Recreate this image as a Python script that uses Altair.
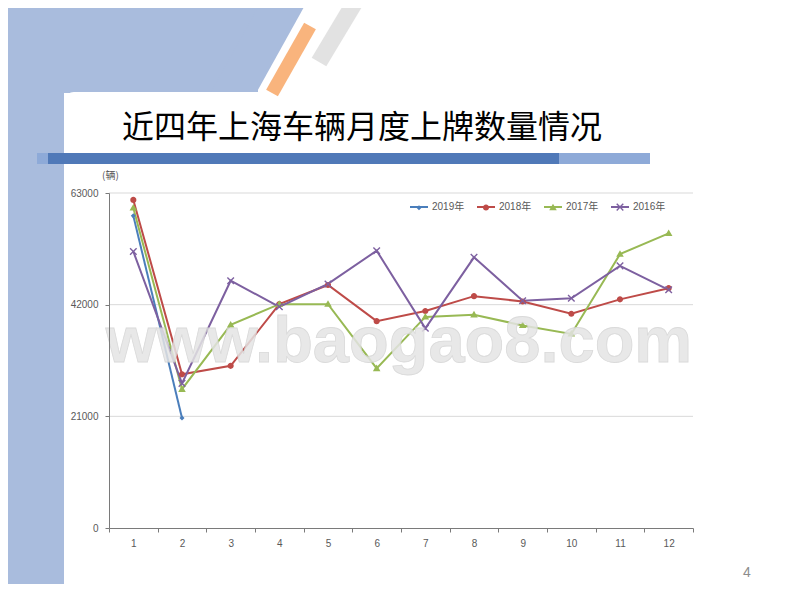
import altair as alt
import pandas as pd

# ---------------- data ----------------
months = list(range(1, 13))
series_names = ["2019年", "2018年", "2017年", "2016年"]
v2019 = [58700, 20700]
v2018 = [61700, 28900, 30500, 42100, 45700, 38900, 40800, 43600, 42600, 40300, 43000, 45100]
v2017 = [60200, 26100, 38200, 42100, 42100, 30000, 39700, 40100, 38100, 36500, 51500, 55400]
v2016 = [52000, 27200, 46500, 41600, 45900, 52150, 37550, 50900, 42750, 43200, 49300, 44800]
y_ticks = [0, 21000, 42000, 63000]
title_text = "近四年上海车辆月度上牌数量情况"
unit_text = "(辆)"
watermark = "www.baogao8.com"
page_no = "4"

# ---------------- styles ----------------
colors = ["#4a7ebb", "#be4b48", "#98b954", "#7d60a0"]
# each marker path carries a zero-area horizontal segment (-1..1) so that its
# bounds match the line symbol of the other legend
EXTENT = "M-1,0L1,0"
shapes = [
    EXTENT + "M0,-0.28L0.28,0L0,0.28L-0.28,0Z",
    EXTENT + "M-0.34,0A0.34,0.34,0,1,0,0.34,0A0.34,0.34,0,1,0,-0.34,0Z",
    EXTENT + "M0,-0.44L0.42,0.3L-0.42,0.3Z",
    EXTENT + "M-0.42,-0.31L-0.31,-0.42L0,-0.11L0.31,-0.42L0.42,-0.31L0.11,0L0.42,0.31L0.31,0.42L0,0.11L-0.31,0.42L-0.42,0.31L-0.11,0Z",
]
FONT = "Liberation Sans, Noto Sans CJK SC"
CJK = "Noto Sans CJK SC"
LABEL_COLOR = "#595959"
AXIS_COLOR = "#7a7a7a"

rows = []
for name, vals in zip(series_names, [v2019, v2018, v2017, v2016]):
    for m, v in zip(months, vals):
        rows.append({"month": m, "value": v, "year": name, "yr": name})
df = pd.DataFrame(rows)
grid_df = pd.DataFrame({"value": [t for t in y_ticks if t > 0]})

W, H = 584, 335
OX, OY = 109, 193  # page position of plot origin


def px(x):
    return alt.value(x - OX)


def py(y):
    return alt.value(y - OY)


one = alt.Data(values=[{"k": 1}])


def rect(x1, y1, x2, y2, color, **kw):
    return alt.Chart(one).mark_rect(color=color, **kw).encode(
        x=px(x1), x2=px(x2), y=py(y1), y2=py(y2))


def rule(x1, y1, x2, y2, color, w):
    return alt.Chart(one).mark_rule(color=color, strokeWidth=w, strokeCap="butt").encode(
        x=px(x1), y=py(y1), x2=px(x2), y2=py(y2))


def text(t, x, y, **kw):
    return alt.Chart(one).mark_text(text=t, **kw).encode(x=px(x), y=py(y))


BLUE_BG = "#a9bcdd"
deco = [
    rect(0, 0, 64, 620, BLUE_BG),
    rect(0, 0, 258, 93, BLUE_BG),
    rule(310, -45, 220, 117, BLUE_BG, 40),
    rect(64, 92, 820, 620, "#ffffff", cornerRadius=10),
    rule(310, 26, 272, 93, "#f9b47d", 13.5),
    rule(364, -13, 319, 62, "#e2e2e2", 17),
    rect(37, 153, 50, 164, "#8eaad8"),
    rect(48, 153, 559, 164, "#5079b8"),
    rect(559, 153, 650, 164, "#8eaad8"),
    text(title_text, 122, 128, font=CJK, fontSize=32, color="#000000",
         align="left", baseline="middle"),
    text(page_no, 747, 573, font=FONT, fontSize=14, color="#8c8c8c",
         align="center", baseline="middle"),
    text(unit_text, 102, 176, font=CJK, fontSize=10, color=LABEL_COLOR,
         align="left", baseline="middle"),
]

x_vals = sorted(set([m - 0.5 for m in months] + months + [months[-1] + 0.5]))
x_axis = alt.Axis(
    values=x_vals, title=None, grid=False,
    labelExpr="datum.value % 1 == 0 ? '' + datum.value : ''",
    labelOverlap=False, labelFlush=False,
    domainColor=AXIS_COLOR, tickColor=AXIS_COLOR, tickSize=4,
    tickOpacity={"condition": {"test": "datum.value % 1 != 0", "value": 1}, "value": 0},
    labelFont=FONT, labelFontSize=10, labelColor=LABEL_COLOR, labelPadding=6,
    zindex=1,
)
y_axis = alt.Axis(
    values=y_ticks, format="d", title=None, grid=False,
    domainColor=AXIS_COLOR, tickColor=AXIS_COLOR, tickSize=4,
    labelFont=FONT, labelFontSize=10, labelColor=LABEL_COLOR, labelPadding=7,
    zindex=1,
)
x_scale = alt.Scale(domain=[months[0] - 0.5, months[-1] + 0.5], nice=False, zero=False)
y_scale = alt.Scale(domain=[y_ticks[0], y_ticks[-1]], nice=False)
x_enc = alt.X("month:Q", scale=x_scale, axis=x_axis)
y_enc = alt.Y("value:Q", scale=y_scale, axis=y_axis)


def legend(**kw):
    return alt.Legend(orient="none", legendX=300, legendY=4, direction="horizontal",
                      title=None, symbolSize=324, labelFont=FONT, labelFontSize=10,
                      labelOffset=3, columnPadding=8,
                      padding=0, symbolStrokeWidth=2, **kw)


grid = alt.Chart(grid_df).mark_rule(color="#d9d9d9", strokeWidth=1).encode(y=y_enc)

# line legend: domain built through a sort (own domain -> kept as its own legend)
lines = alt.Chart(df).mark_line(strokeWidth=2).encode(
    x=x_enc, y=y_enc,
    stroke=alt.Stroke("yr:N", sort=series_names, scale=alt.Scale(range=colors),
                      legend=legend(symbolType="stroke", labelColor=LABEL_COLOR)),
    order="month:Q",
)

# marker legend: colour + shape share an explicit domain -> merged into one legend,
# drawn over the line legend (its labels are hidden, the line legend shows them)
marker_legend = legend(symbolStrokeColor="transparent", labelColor=LABEL_COLOR, labelOpacity=0)
points = alt.Chart(df).mark_point(filled=True, size=324, opacity=1, strokeWidth=0).encode(
    x=x_enc, y=y_enc,
    color=alt.Color("year:N", scale=alt.Scale(domain=series_names, range=colors),
                    legend=marker_legend),
    shape=alt.Shape("year:N", scale=alt.Scale(domain=series_names, range=shapes),
                    legend=marker_legend),
)

wm = text(watermark, 399, 362, font="Liberation Sans", fontSize=65, fontWeight="bold",
          color="#e4e4e4", opacity=0.85, stroke="#d4d4d4", strokeWidth=0.8,
          align="center", baseline="alphabetic")

chart = alt.layer(*deco, grid, lines, points, wm).properties(
    width=W, height=H,
    autosize=alt.AutoSizeParams(type="none"),
    padding={"left": 101, "top": 185, "right": 98, "bottom": 56},
    background="#ffffff",
).configure_view(stroke=None)

chart.save("out.html", embed_options={"renderer": "svg", "actions": False})
